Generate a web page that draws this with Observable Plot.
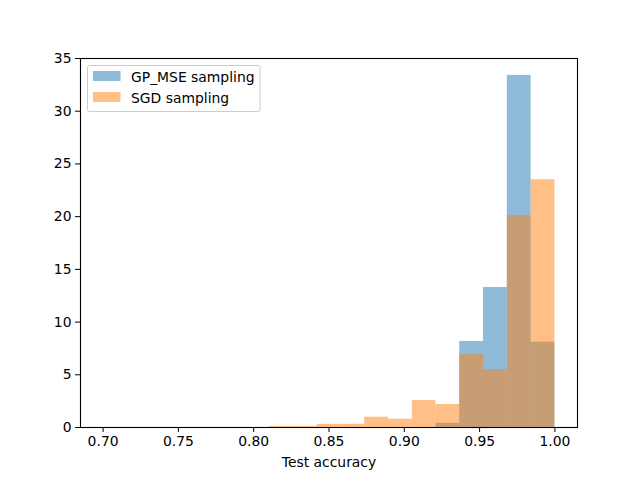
<!DOCTYPE html>
<html><head><meta charset="utf-8">
<script src="https://cdn.jsdelivr.net/npm/d3@7"></script>
<script src="https://cdn.jsdelivr.net/npm/@observablehq/plot@0.6"></script>
<style>
body{margin:0;background:#fff}
#chart svg{font-family:"DejaVu Sans",sans-serif;color:#000;background:#fff}
</style>
</head><body><div id="chart"></div>
<script>
// histogram bin edges (19 equal bins from 0.70 to 1.00)
const binEdges = [0.7000,0.7158,0.7316,0.7474,0.7632,0.7789,0.7947,0.8105,0.8263,0.8421,
                  0.8579,0.8737,0.8895,0.9053,0.9211,0.9368,0.9526,0.9684,0.9842,1.0000];
// density heights per bin
const gpMseHeights = [0,0,0,0,0,0,0,0,0,0,0,0,0,0,0.40,8.16,13.28,33.40,8.09];
const sgdHeights   = [0,0,0,0,0,0,0,0.10,0.10,0.30,0.30,0.98,0.79,2.56,2.18,6.92,5.50,20.10,23.50];
const seriesNames = ["GP_MSE sampling","SGD sampling"];
const seriesColors = ["#1f77b4","#ff7f0e"];
const xTicks = [0.70,0.75,0.80,0.85,0.90,0.95,1.00];
const yTicks = [0,5,10,15,20,25,30,35];

const toRows = (h) => h.map((v,i)=>({x1:binEdges[i], x2:binEdges[i+1], y:v})).filter(d=>d.y>0);
const gpRows = toRows(gpMseHeights);
const sgdRows = toRows(sgdHeights);

const fs = 13.9;
const chart = Plot.plot({
  width:640, height:480,
  marginLeft:80, marginRight:63, marginTop:58, marginBottom:53,
  x:{domain:[0.685,1.015]},
  y:{domain:[0,35]},
  style:{fontFamily:"DejaVu Sans", fontSize:fs+"px", color:"#000", background:"#fff"},
  marks:[
    Plot.rectY(gpRows,{x1:"x1",x2:"x2",y:"y",fill:seriesColors[0],fillOpacity:0.5,inset:0}),
    Plot.rectY(sgdRows,{x1:"x1",x2:"x2",y:"y",fill:seriesColors[1],fillOpacity:0.5,inset:0}),
    Plot.axisX({ticks:xTicks, tickFormat:d=>d.toFixed(2), tickSize:5, tickPadding:4, fontSize:fs,
      label:"Test accuracy", labelAnchor:"center", labelArrow:"none", labelOffset:39}),
    Plot.axisY({ticks:yTicks, tickSize:5, tickPadding:4, fontSize:fs, label:null}),
    Plot.frame({stroke:"#000", strokeWidth:1.1})
  ]
});
document.getElementById("chart").appendChild(chart);

// legend inside the axes (upper left)
const svg = d3.select(chart);
const lg = svg.append("g").attr("text-anchor","start");
lg.append("rect").attr("x",87.5).attr("y",65.5).attr("width",172.5).attr("height",46)
  .attr("rx",2).attr("fill","#fff").attr("fill-opacity",0.8).attr("stroke","#ccc");
seriesNames.forEach((name,i)=>{
  const y0 = 71 + i*21;
  lg.append("rect").attr("x",93).attr("y",y0).attr("width",27.5).attr("height",10)
    .attr("fill",seriesColors[i]).attr("fill-opacity",0.5);
  lg.append("text").attr("x",131).attr("y",y0+10.5).attr("font-size",fs+"px")
    .attr("text-anchor","start").attr("font-family","DejaVu Sans").attr("fill","#000").text(name);
});
</script>
</body></html>
